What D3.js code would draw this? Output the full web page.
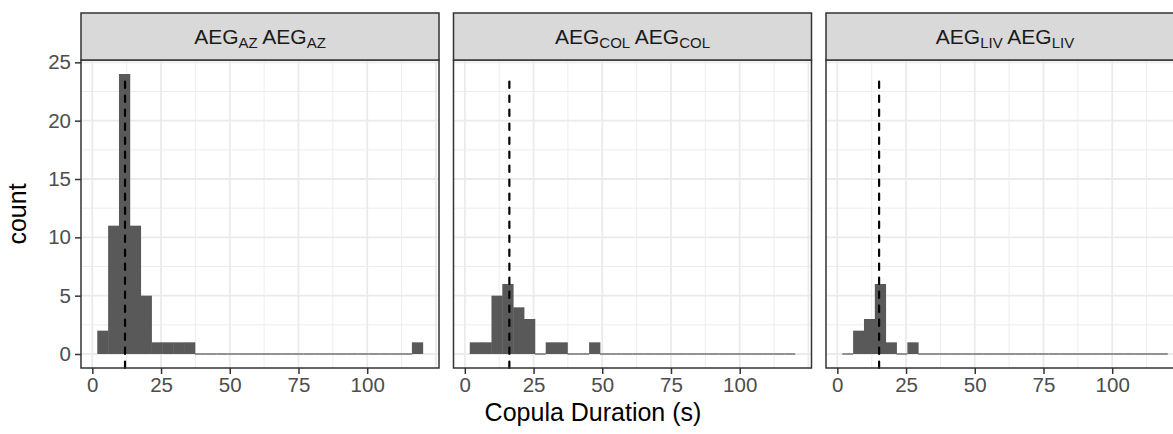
<!DOCTYPE html>
<html>
<head>
<meta charset="utf-8">
<script src="https://cdn.jsdelivr.net/npm/d3@7/dist/d3.min.js"></script>
<style>
  html, body { margin: 0; padding: 0; background: #ffffff; }
  svg { display: block; }
  text { font-family: "Liberation Sans", Arial, Helvetica, sans-serif; }
</style>
</head>
<body>
<svg id="chart" width="1173" height="434"></svg>
<script>
// Facet labels: base name and subscript
const facetNames = ["AEG", "AEG", "AEG"];
const facetSubs = ["AZ", "COL", "LIV"];

// Histogram bins (30 bins shared by all facets)
const binStart = 1.8;
const binWidth = 3.947;

// Counts per bin for each facet
const countsAZ  = [2, 11, 24, 11, 5, 1, 1, 1, 1, 0, 0, 0, 0, 0, 0, 0, 0, 0, 0, 0, 0, 0, 0, 0, 0, 0, 0, 0, 0, 1];
const countsCOL = [1, 1, 5, 6, 4, 3, 0, 1, 1, 0, 0, 1, 0, 0, 0, 0, 0, 0, 0, 0, 0, 0, 0, 0, 0, 0, 0, 0, 0, 0];
const countsLIV = [0, 2, 3, 6, 1, 0, 1, 0, 0, 0, 0, 0, 0, 0, 0, 0, 0, 0, 0, 0, 0, 0, 0, 0, 0, 0, 0, 0, 0, 0];

// Reference (dashed) durations per facet
const refLines = [11.9, 16.2, 15.2];
const refTop = 24;

// Axis ticks
const xTicks = [0, 25, 50, 75, 100];
const yTicks = [0, 5, 10, 15, 20, 25];
const xMajorGrid = [0, 25, 50, 75, 100, 125];
const xMinorGrid = [12.5, 37.5, 62.5, 87.5, 112.5];
const yMinorGrid = [2.5, 7.5, 12.5, 17.5, 22.5];

const xTitle = "Copula Duration (s)";
const yTitle = "count";

const facetCounts = [countsAZ, countsCOL, countsLIV];

// Layout
const panelLeft0 = 81, panelW = 358, panelGap = 14.5;
const stripTop = 13, panelTop = 60, panelBottom = 368;

const svg = d3.select("#chart");

const y = d3.scaleLinear().domain([-1.2, 25.2]).range([panelBottom, panelTop]);

const border = "#333333";
const gridCol = "#EBEBEB";
const barCol = "#595959";
const tickTextCol = "#4D4D4D";
const tickFont = 20.5;

facetCounts.forEach((counts, i) => {
  const left = panelLeft0 + i * (panelW + panelGap);
  const x = d3.scaleLinear().domain([-4.12, 126.12]).range([left, left + panelW]);
  const g = svg.append("g");

  // panel background
  g.append("rect").attr("x", left).attr("y", panelTop)
    .attr("width", panelW).attr("height", panelBottom - panelTop).attr("fill", "#fff");

  // grid
  g.selectAll(null).data(yMinorGrid).join("line")
    .attr("x1", left).attr("x2", left + panelW)
    .attr("y1", d => y(d)).attr("y2", d => y(d))
    .attr("stroke", gridCol).attr("stroke-width", 0.9);
  g.selectAll(null).data(xMinorGrid).join("line")
    .attr("x1", d => x(d)).attr("x2", d => x(d))
    .attr("y1", panelTop).attr("y2", panelBottom)
    .attr("stroke", gridCol).attr("stroke-width", 0.9);
  g.selectAll(null).data(yTicks).join("line")
    .attr("x1", left).attr("x2", left + panelW)
    .attr("y1", d => y(d)).attr("y2", d => y(d))
    .attr("stroke", gridCol).attr("stroke-width", 1.8);
  g.selectAll(null).data(xMajorGrid).join("line")
    .attr("x1", d => x(d)).attr("x2", d => x(d))
    .attr("y1", panelTop).attr("y2", panelBottom)
    .attr("stroke", gridCol).attr("stroke-width", 1.8);

  // histogram bars
  const bins = counts.map((c, k) => ({ x0: binStart + k * binWidth, x1: binStart + (k + 1) * binWidth, c }));
  g.selectAll(null).data(bins).join("rect")
    .attr("x", d => x(d.x0))
    .attr("width", d => x(d.x1) - x(d.x0) + (d.c > 0 ? 0.4 : 0))
    .attr("y", d => d.c > 0 ? y(d.c) : y(0) - 0.6)
    .attr("height", d => d.c > 0 ? y(0) - y(d.c) : 1.2)
    .attr("fill", barCol);

  // dashed reference line
  g.append("line")
    .attr("x1", x(refLines[i])).attr("x2", x(refLines[i]))
    .attr("y1", panelBottom).attr("y2", y(refTop))
    .attr("stroke", "#000").attr("stroke-width", 2.2)
    .attr("stroke-dasharray", "6.5,7.5").attr("stroke-linecap", "round");

  // panel border
  g.append("rect").attr("x", left).attr("y", panelTop)
    .attr("width", panelW).attr("height", panelBottom - panelTop)
    .attr("fill", "none").attr("stroke", border).attr("stroke-width", 1.5);

  // strip
  g.append("rect").attr("x", left).attr("y", stripTop)
    .attr("width", panelW).attr("height", panelTop - stripTop)
    .attr("fill", "#D9D9D9").attr("stroke", border).attr("stroke-width", 1.5);
  const st = g.append("text")
    .attr("x", left + panelW / 2).attr("y", (stripTop + panelTop) / 2 + 7)
    .attr("text-anchor", "middle").attr("fill", "#1A1A1A").attr("font-size", 21);
  st.append("tspan").text(facetNames[i]);
  st.append("tspan").attr("font-size", 15).attr("dy", 4).text(facetSubs[i]);
  st.append("tspan").attr("dy", -4).text(" " + facetNames[i]);
  st.append("tspan").attr("font-size", 15).attr("dy", 4).text(facetSubs[i]);

  // x axis
  const ax = g.append("g").attr("transform", `translate(0,${panelBottom})`)
    .call(d3.axisBottom(x).tickValues(xTicks).tickSize(6).tickPadding(3).tickFormat(d3.format("d")));
  ax.select(".domain").remove();
  ax.selectAll(".tick line").attr("stroke", border).attr("stroke-width", 1.5);
  ax.selectAll(".tick text").attr("fill", tickTextCol).attr("font-size", tickFont)
    .attr("font-family", "Liberation Sans, Arial, sans-serif");

  if (i === 0) {
    const ay = g.append("g").attr("transform", `translate(${left},0)`)
      .call(d3.axisLeft(y).tickValues(yTicks).tickSize(6).tickPadding(4));
    ay.select(".domain").remove();
    ay.selectAll(".tick line").attr("stroke", border).attr("stroke-width", 1.5);
    ay.selectAll(".tick text").attr("fill", tickTextCol).attr("font-size", tickFont)
      .attr("font-family", "Liberation Sans, Arial, sans-serif");
  }
});

// axis titles
svg.append("text").attr("x", 593).attr("y", 421)
  .attr("text-anchor", "middle").attr("font-size", 25).attr("fill", "#000")
  .text(xTitle);
svg.append("text")
  .attr("transform", `translate(26,${(panelTop + panelBottom) / 2}) rotate(-90)`)
  .attr("text-anchor", "middle").attr("font-size", 25).attr("fill", "#000")
  .text(yTitle);
</script>
</body>
</html>
